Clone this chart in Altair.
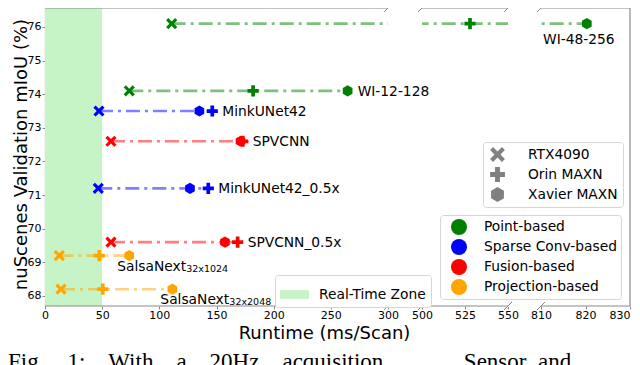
import altair as alt
import pandas as pd

# ---------------- data ----------------
models = ["WI-48-256", "WI-12-128", "MinkUNet42", "SPVCNN",
          "MinkUNet42_0.5x", "SPVCNN_0.5x", "SalsaNext32x1024", "SalsaNext32x2048"]
families = ["Point-based", "Point-based", "Sparse Conv-based", "Fusion-based",
            "Sparse Conv-based", "Fusion-based", "Projection-based", "Projection-based"]
miou = [76.1, 74.1, 73.5, 72.6, 71.2, 69.6, 69.2, 68.2]
rtx4090 = [110.8, 73.7, 47.2, 57.7, 46.6, 57.7, 12.5, 14.0]
orin_maxn = [527.9, 182.0, 146.3, 173.0, 142.8, 168.5, 47.5, 50.5]
xavier_maxn = [820.3, 264.7, 135.0, 171.0, 126.8, 157.4, 73.7, 111.4]
label_main = ["WI-48-256", "WI-12-128", "MinkUNet42", "SPVCNN",
              "MinkUNet42_0.5x", "SPVCNN_0.5x", "SalsaNext", "SalsaNext"]
label_sub = ["", "", "", "", "", "", "32x1024", "32x2048"]

devices = ["RTX4090", "Orin MAXN", "Xavier MAXN"]
family_order = ["Point-based", "Sparse Conv-based", "Fusion-based", "Projection-based"]
family_colors = ["#008000", "#0000ff", "#ff0000", "#ffa500"]

x_ticks = [0, 50, 100, 150, 200, 250, 300, 500, 525, 550, 810, 820, 830]
y_ticks = [68, 69, 70, 71, 72, 73, 74, 75, 76]
seg_start = [0, 500, 810]
seg_end = [300, 550, 830]
gap_start = [300, 550]
gap_end = [500, 810]
break_pos = [300, 500, 550, 810]
zone_name = ["Real-Time Zone"]
zone_start = [0]
zone_end = [50]

# ---------------- tables ----------------
rows = []
for i, m in enumerate(models):
    for d, vals in zip(devices, [rtx4090, orin_maxn, xavier_maxn]):
        rows.append(dict(model=m, family=families[i], device=d,
                         runtime=vals[i], miou=miou[i]))
pts = pd.DataFrame(rows)

labels = pd.DataFrame(dict(
    model=models, main=label_main, sub=label_sub, miou=miou,
    end=[max(a, b, c) for a, b, c in zip(rtx4090, orin_maxn, xavier_maxn)]))
segs = pd.DataFrame(dict(start=seg_start, end=seg_end))
gaps = pd.DataFrame(dict(start=gap_start, end=gap_end))
brk = pd.DataFrame(dict(pos=break_pos))
zone = pd.DataFrame(dict(zone=zone_name, start=zone_start, end=zone_end))
right_edge = pd.DataFrame(dict(pos=[830]))

# ---------------- styling ----------------
W, H = 585, 298
FONT = "DejaVu Sans"
SPINE = "#8a8a8a"
LBL = 13.8

xscale = alt.Scale(domain=[0, 300, 500, 550, 810, 830],
                   range=[0, 343, 377, 463, 496, 585], nice=False, zero=False)
yscale = alt.Scale(domain=[67.70, 76.565], nice=False, zero=False)

xaxis = alt.Axis(values=x_ticks, title="Runtime (ms/Scan)", grid=False, domain=False,
                 labelFont=FONT, labelFontSize=11, labelColor="black", labelPadding=0,
                 labelFlush=False, labelOverlap=False,
                 labelAlign={"condition": {"test": "datum.value === 830", "value": "right"},
                             "value": "center"},
                 tickSize=3, tickColor=SPINE, titleFont=FONT, titleFontSize=18,
                 titleFontWeight="normal", titleColor="black", titleX=279, titleY=32,
                 titleBaseline="alphabetic", titleAlign="center", format="d")
yaxis = alt.Axis(values=y_ticks, title="nuScenes Validation mIoU (%)", grid=False,
                 domain=True, domainColor=SPINE, domainWidth=1.2,
                 labelFont=FONT, labelFontSize=11, labelColor="black", labelPadding=1,
                 tickSize=3, tickColor=SPINE, titleFont=FONT, titleFontSize=18,
                 titleFontWeight="normal", titleColor="black", titleX=-19, titleY=146,
                 titleAngle=270, titleBaseline="alphabetic", titleAlign="center", format="d")

X_PATH = "M-0.6,-1L0,-0.4L0.6,-1L1,-0.6L0.4,0L1,0.6L0.6,1L0,0.4L-0.6,1L-1,0.6L-0.4,0L-1,-0.6Z"
P_PATH = ("M-0.33,-1L0.33,-1L0.33,-0.33L1,-0.33L1,0.33L0.33,0.33L0.33,1L-0.33,1"
          "L-0.33,0.33L-1,0.33L-1,-0.33L-0.33,-0.33Z")
H_PATH = "M0,-1L0.866,-0.5L0.866,0.5L0,1L-0.866,0.5L-0.866,-0.5Z"
RECT_PATH = "M-1,-0.3L1,-0.3L1,0.3L-1,0.3Z"

legend_common = dict(title=None, orient="none", labelFont=FONT, labelFontSize=LBL,
                     labelColor="black", strokeColor="#d6d6d6", fillColor="white",
                     cornerRadius=3)


def X(field):
    return alt.X(field, scale=xscale, axis=xaxis, title="Runtime (ms/Scan)")


def Y(field):
    return alt.Y(field, scale=yscale, axis=yaxis, title="nuScenes Validation mIoU (%)")


# ---------------- layers ----------------
zone_layer = alt.Chart(zone).mark_rect(opacity=1).encode(
    x=X("start:Q"), x2="end:Q",
    y=alt.value(0), y2=alt.value(H),
    fill=alt.Fill("zone:N", scale=alt.Scale(domain=zone_name, range=["#c6f4c6"]),
                  legend=alt.Legend(legendX=230, legendY=267, symbolType=RECT_PATH,
                                    symbolSize=841, symbolStrokeWidth=0, padding=5,
                                    symbolOffset=0, labelOffset=10, symbolOpacity=1,
                                    **legend_common)),
)

lines = alt.Chart(pts).mark_line(strokeWidth=2.6, strokeDash=[14, 5, 3, 5],
                                 strokeOpacity=0.5, strokeCap="butt").encode(
    x=X("runtime:Q"), y=Y("miou:Q"),
    stroke=alt.Stroke("family:N", scale=alt.Scale(domain=family_order, range=family_colors),
                      legend=None),
    detail="model:N",
    order="runtime:Q",
)

gap_layer = alt.Chart(gaps).mark_rect(color="white", opacity=1).encode(
    x=X("start:Q"), x2="end:Q",
    y=alt.value(-6), y2=alt.value(H + 1),
)

points = alt.Chart(pts).mark_point(filled=True, opacity=1, strokeWidth=0, size=125).encode(
    x=X("runtime:Q"), y=Y("miou:Q"),
    color=alt.Color("family:N", scale=alt.Scale(domain=family_order, range=family_colors),
                    legend=alt.Legend(legendX=395, legendY=207, symbolType="circle",
                                      symbolSize=256, symbolStrokeWidth=0, symbolOpacity=1,
                                      padding=4, symbolOffset=7, labelOffset=17,
                                      rowPadding=4, **legend_common)),
    shape=alt.Shape("device:N", scale=alt.Scale(domain=devices, range=[X_PATH, P_PATH, H_PATH]),
                    legend=alt.Legend(legendX=438, legendY=134, symbolSize=220,
                                      symbolFillColor="#808080", symbolStrokeColor="#808080",
                                      symbolStrokeWidth=0, symbolOpacity=1,
                                      padding=5, symbolOffset=2, labelOffset=23,
                                      rowPadding=5, **legend_common)),
)

top_spine = alt.Chart(segs).mark_rule(color=SPINE, strokeWidth=1.2).encode(
    x=X("start:Q"), x2="end:Q", y=alt.value(0))
bottom_spine = alt.Chart(segs).mark_rule(color=SPINE, strokeWidth=1.2).encode(
    x=X("start:Q"), x2="end:Q", y=alt.value(H))
right_spine = alt.Chart(right_edge).mark_rule(color=SPINE, strokeWidth=1.2).encode(
    x=X("pos:Q"), y=alt.value(0), y2=alt.value(H))

brk_top = alt.Chart(brk).mark_point(shape="M-1,1L1,-1", size=64, filled=False,
                                    color=SPINE, strokeWidth=1, opacity=1).encode(
    x=X("pos:Q"), y=alt.value(0))
brk_bot = alt.Chart(brk).mark_point(shape="M-1,1L1,-1", size=64, filled=False,
                                    color=SPINE, strokeWidth=1, opacity=1).encode(
    x=X("pos:Q"), y=alt.value(H))

right_models = ["WI-12-128", "MinkUNet42", "SPVCNN", "MinkUNet42_0.5x", "SPVCNN_0.5x"]

txt_right = alt.Chart(labels).transform_filter(
    alt.FieldOneOfPredicate(field="model", oneOf=right_models)
).mark_text(align="left", baseline="middle", dx=10, dy=1, font=FONT, fontSize=LBL,
            color="black").encode(text="main:N", x=X("end:Q"), y=Y("miou:Q"))

txt_wi48 = alt.Chart(labels).transform_filter(
    alt.FieldOneOfPredicate(field="model", oneOf=["WI-48-256"])
).mark_text(align="center", baseline="alphabetic", dx=-8, dy=20, font=FONT, fontSize=LBL,
            color="black").encode(text="main:N", x=X("end:Q"), y=Y("miou:Q"))

salsa = ["SalsaNext32x1024", "SalsaNext32x2048"]
txt_salsa = alt.Chart(labels).transform_filter(
    alt.FieldOneOfPredicate(field="model", oneOf=salsa)
).mark_text(align="left", baseline="alphabetic", dx=-12, dy=15, font=FONT, fontSize=LBL,
            color="black").encode(text="main:N", x=X("end:Q"), y=Y("miou:Q"))
txt_sub = alt.Chart(labels).transform_filter(
    alt.FieldOneOfPredicate(field="model", oneOf=salsa)
).mark_text(align="left", baseline="alphabetic", dx=57, dy=16, font=FONT, fontSize=9.5,
            color="black").encode(text="sub:N", x=X("end:Q"), y=Y("miou:Q"))

NB = "\u00a0"
gap = NB * 4
caption = ("Fig." + gap + "1:" + gap + "With" + gap + "a" + gap + "20Hz" + gap +
           "acquisition" + NB * 14 + "Sensor" + NB * 2 + "and")

chart = alt.layer(
    zone_layer, lines, gap_layer, points, top_spine, bottom_spine, right_spine,
    brk_top, brk_bot, txt_right, txt_wi48, txt_salsa, txt_sub,
    title=alt.TitleParams(text=caption, orient="bottom", anchor="start", frame="group",
                          dx=-37, offset=9, font="Liberation Serif", fontSize=23,
                          fontWeight="normal", color="black"),
).resolve_scale(
    color="independent", stroke="independent"
).properties(
    width=W, height=H,
    autosize=alt.AutoSizeParams(type="none"),
    padding={"left": 37, "top": 0, "right": 2, "bottom": 62},
).configure_view(stroke=None)

chart.save("out.html", embed_options={"renderer": "svg", "actions": False})
